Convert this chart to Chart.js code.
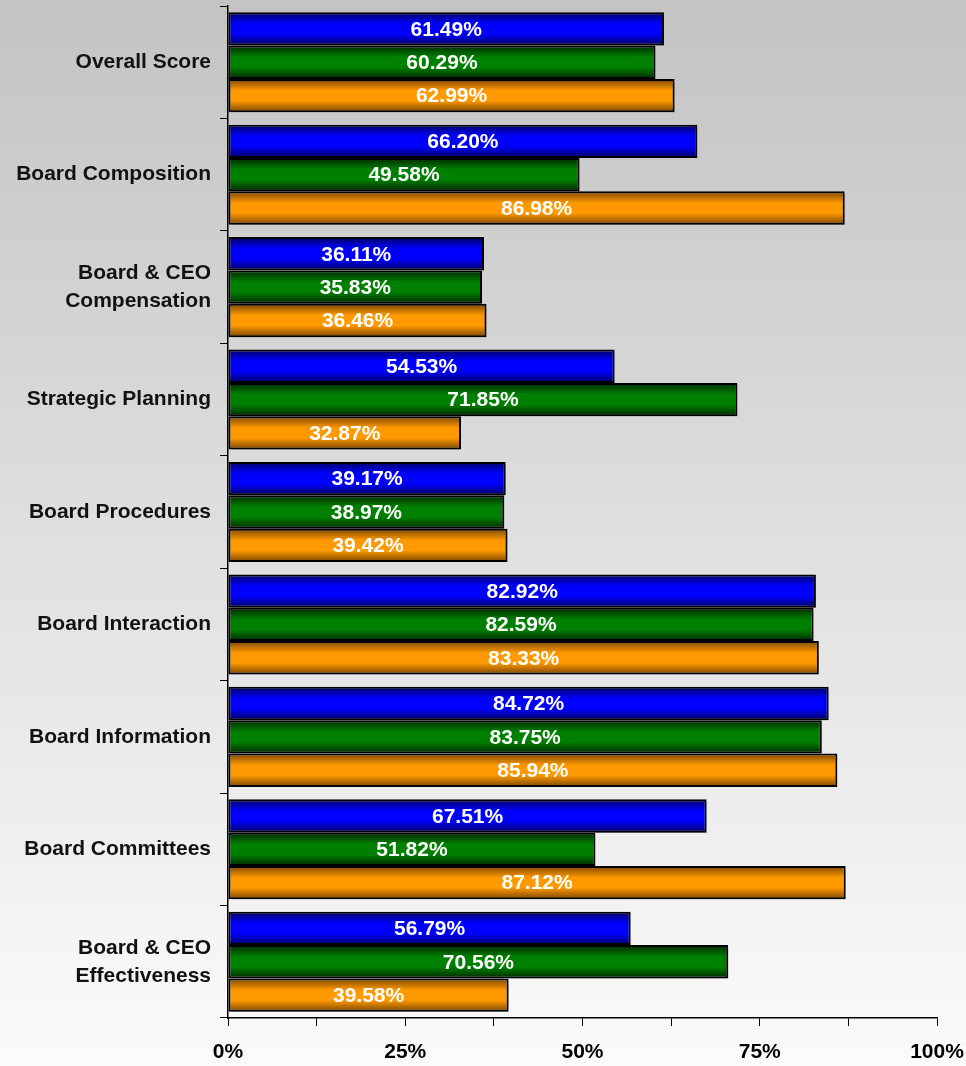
<!DOCTYPE html>
<html>
<head>
<meta charset="utf-8">
<script src="https://cdn.jsdelivr.net/npm/chart.js@4.4.1/dist/chart.umd.min.js"></script>
<style>
    body { margin: 0; background: #fff; }
    canvas { display: block; }
</style>
</head>
<body>
<canvas id="grafico" width="966" height="1066"></canvas>
<script>
const categorias = ['Overall Score', 'Board Composition', ['Board & CEO', 'Compensation'], 'Strategic Planning',
    'Board Procedures', 'Board Interaction', 'Board Information', 'Board Committees', ['Board & CEO', 'Effectiveness']];
const serie1 = [61.49, 66.20, 36.11, 54.53, 39.17, 82.92, 84.72, 67.51, 56.79];
const serie2 = [60.29, 49.58, 35.83, 71.85, 38.97, 82.59, 83.75, 51.82, 70.56];
const serie3 = [62.99, 86.98, 36.46, 32.87, 39.42, 83.33, 85.94, 87.12, 39.58];
const ticksX = [0, 25, 50, 75, 100];

const CAT_PCT = 0.89;
const FUENTE = 'Arial, "Liberation Sans", Helvetica, sans-serif';

// degradado vertical en cada barra (oscuro arriba y abajo)
function degradado(claro, oscuro) {
    return function (ctx) {
        const chart = ctx.chart;
        const area = chart.chartArea;
        if (!area || !chart.scales.y) return claro;
        const n = categorias.length;
        const alto = (area.bottom - area.top) / n * CAT_PCT / 3;
        const centro = chart.scales.y.getPixelForValue(ctx.dataIndex) + (ctx.datasetIndex - 1) * alto;
        const g = chart.ctx.createLinearGradient(0, centro - alto / 2, 0, centro + alto / 2);
        g.addColorStop(0, oscuro);
        g.addColorStop(0.35, claro);
        g.addColorStop(0.65, claro);
        g.addColorStop(1, oscuro);
        return g;
    };
}

const fondo = {
    id: 'fondo',
    beforeDraw(chart) {
        const c = chart.ctx;
        const g = c.createLinearGradient(0, 0, 0, chart.height);
        g.addColorStop(0, '#c3c3c3');
        g.addColorStop(1, '#fbfbfb');
        c.save();
        c.fillStyle = g;
        c.fillRect(0, 0, chart.width, chart.height);
        c.restore();
    }
};

// sombra suave de las barras
const sombra = {
    id: 'sombra',
    beforeDatasetsDraw(chart) {
        const c = chart.ctx;
        c.save();
        c.shadowColor = 'rgba(0, 0, 0, 0.22)';
        c.shadowOffsetX = 3;
        c.shadowOffsetY = 3;
        c.shadowBlur = 2;
    },
    afterDatasetsDraw(chart) {
        chart.ctx.restore();
    }
};

const etiquetas = {
    id: 'etiquetas',
    afterDatasetsDraw(chart) {
        const c = chart.ctx;
        c.save();
        c.fillStyle = '#ffffff';
        c.font = 'bold 21px ' + FUENTE;
        c.textAlign = 'center';
        c.textBaseline = 'middle';
        chart.data.datasets.forEach(function (ds, i) {
            chart.getDatasetMeta(i).data.forEach(function (el, j) {
                c.fillText(ds.data[j].toFixed(2) + '%', (el.x + el.base) / 2, el.y + 1);
            });
        });
        c.restore();
    }
};

const grafico = document.getElementById('grafico').getContext('2d');
new Chart(grafico, {
    type: 'bar',
    data: {
        labels: categorias,
        datasets: [
            { label: 'Serie 1', data: serie1, backgroundColor: degradado('#0000ff', '#000060') },
            { label: 'Serie 2', data: serie2, backgroundColor: degradado('#008000', '#002800') },
            { label: 'Serie 3', data: serie3, backgroundColor: degradado('#ff9900', '#7a4600') }
        ]
    },
    options: {
        indexAxis: 'y',
        responsive: false,
        animation: false,
        datasets: {
            bar: {
                barPercentage: 1,
                categoryPercentage: CAT_PCT,
                borderColor: '#000000',
                borderWidth: 2,
                borderSkipped: false
            }
        },
        layout: { padding: 0 },
        scales: {
            x: {
                min: 0,
                max: 100,
                border: { color: '#000', width: 1.5 },
                grid: { drawOnChartArea: false, drawTicks: true, tickLength: 8, color: '#000' },
                ticks: {
                    stepSize: 12.5,
                    autoSkip: false,
                    maxRotation: 0,
                    padding: 14,
                    color: '#000',
                    font: { family: FUENTE, size: 21, weight: 'bold' },
                    callback: function (v) { return ticksX.includes(v) ? v + '%' : ''; }
                },
                afterFit: function (scale) {
                    scale.height = 48;
                    scale.paddingLeft = 0;
                    scale.paddingRight = 29;
                }
            },
            y: {
                border: { color: '#000', width: 1.5 },
                grid: { drawOnChartArea: false, drawTicks: true, tickLength: 8, color: '#000', offset: true },
                ticks: {
                    padding: 9,
                    color: '#111',
                    font: { family: FUENTE, size: 21, weight: 'bold', lineHeight: 1.33 }
                },
                afterFit: function (scale) {
                    scale.width = 228;
                    scale.paddingTop = 6;
                    scale.paddingBottom = 0;
                }
            }
        },
        plugins: {
            legend: { display: false },
            tooltip: { enabled: false }
        }
    },
    plugins: [fondo, sombra, etiquetas]
});
</script>
</body>
</html>
